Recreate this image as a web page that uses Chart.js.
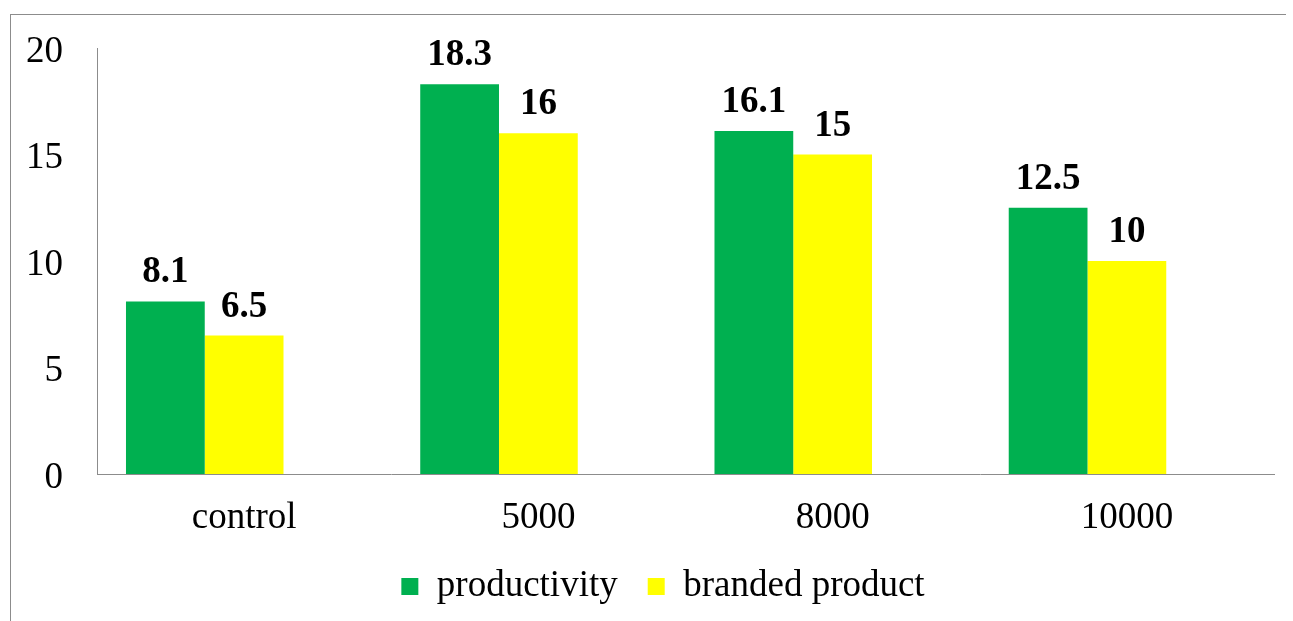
<!DOCTYPE html>
<html>
<head>
<meta charset="utf-8">
<script src="https://cdn.jsdelivr.net/npm/chart.js@4/dist/chart.umd.min.js"></script>
<style>
  html, body { margin: 0; padding: 0; background: #fff; }
  #wrap { position: relative; width: 1293px; height: 621px; }
  #frame { position: absolute; left: 10px; top: 14px; width: 1276px; height: 620px; border: 1px solid #8c8c8c; border-right: none; box-sizing: border-box; pointer-events: none; }
</style>
</head>
<body>
<div id="wrap">
  <canvas id="myChart" width="1293" height="621"></canvas>
  <div id="frame"></div>
</div>
<script>
const categories = ['control', '5000', '8000', '10000'];
const productivity = [8.1, 18.3, 16.1, 12.5];
const branded = [6.5, 16, 15, 10];
// empty third series, it keeps the gap on the right of each pair
const emptySeries = [null, null, null, null];
const yTicks = [0, 5, 10, 15, 20];

const serif = '"Liberation Serif", "Times New Roman", serif';

// draws the value over each bar
const barLabels = {
    id: 'barLabels',
    afterDatasetsDraw(chart) {
        const c = chart.ctx;
        c.save();
        c.font = 'bold 37px ' + serif;
        c.fillStyle = '#000';
        c.textAlign = 'center';
        c.textBaseline = 'alphabetic';
        chart.data.datasets.forEach((ds, i) => {
            chart.getDatasetMeta(i).data.forEach((bar, j) => {
                if (ds.data[j] == null) return;
                c.fillText(String(ds.data[j]), bar.x, bar.y - 19);
            });
        });
        c.restore();
    }
};

// legend sits a bit right of the middle in the original
const legendShift = {
    id: 'legendShift',
    afterLayout(chart) {
        chart.legend.left += 26;
        chart.legend.right += 26;
    }
};

const ctx = document.getElementById('myChart');

var myChart = new Chart(ctx, {
    type: 'bar',
    data: {
        labels: categories,
        datasets: [
            {
                label: 'productivity',
                data: productivity,
                backgroundColor: '#00B050',
                barPercentage: 1,
                categoryPercentage: 0.803
            },
            {
                label: 'branded product',
                data: branded,
                backgroundColor: '#FFFF00',
                barPercentage: 1,
                categoryPercentage: 0.803
            },
            {
                label: '',
                data: emptySeries,
                backgroundColor: 'rgba(0,0,0,0)',
                barPercentage: 1,
                categoryPercentage: 0.803
            }
        ]
    },
    options: {
        responsive: false,
        animation: false,
        layout: { padding: { left: 0, right: 19, top: 48, bottom: 6 } },
        plugins: {
            tooltip: { enabled: false },
            legend: {
                position: 'bottom',
                labels: {
                    color: '#000',
                    font: { family: serif, size: 37 },
                    boxWidth: 17,
                    boxHeight: 17,
                    padding: 30,
                    filter: (item) => item.text !== ''
                }
            }
        },
        scales: {
            x: {
                grid: { display: false, drawTicks: false },
                border: { display: true, color: '#8c8c8c', width: 1 },
                ticks: { color: '#000', font: { family: serif, size: 37 }, padding: 22 },
                afterFit(scale) { scale.height = 64; }
            },
            y: {
                min: 0,
                max: 20,
                afterBuildTicks(scale) { scale.ticks = yTicks.map(v => ({ value: v })); },
                grid: { display: false, drawTicks: false },
                border: { display: true, color: '#8c8c8c', width: 1 },
                ticks: { color: '#000', font: { family: serif, size: 37 }, padding: 34, labelOffset: 4 },
                afterFit(scale) {
                    scale.width = 97;
                    scale.paddingTop = 0;
                    scale.paddingBottom = 0;
                }
            }
        }
    },
    plugins: [barLabels, legendShift]
});
</script>
</body>
</html>
